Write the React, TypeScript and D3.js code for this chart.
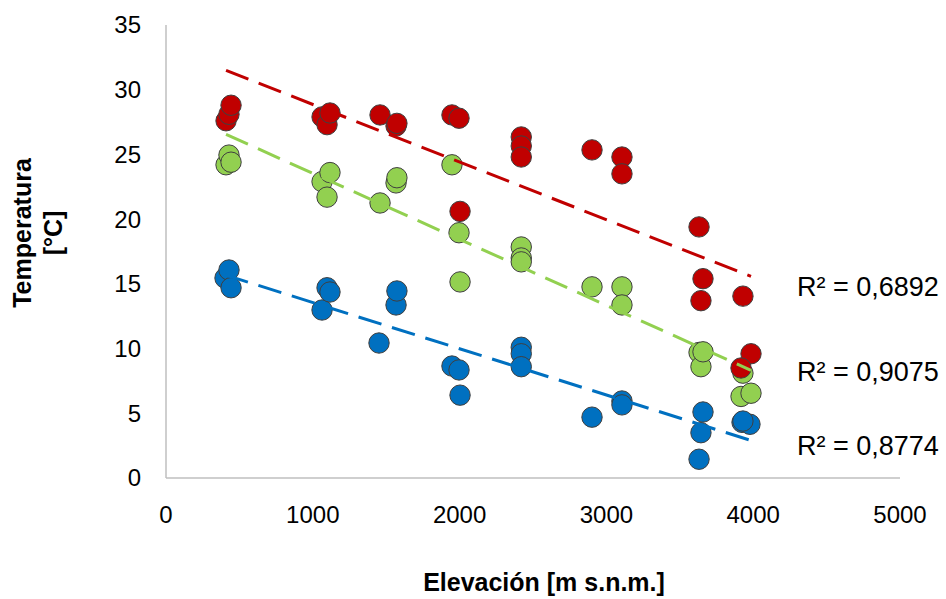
import React from "react";
import * as d3 from "d3";

const xTicks = [0, 1000, 2000, 3000, 4000, 5000];
const yTicks = [0, 5, 10, 15, 20, 25, 30, 35];

const elevRed = [409, 429, 443, 1063, 1097, 1117, 1458, 1567, 1573, 1948, 1996, 2003, 2420, 2420, 2420, 2902, 3106, 3106, 3631, 3658, 3644, 3930, 3985, 3917];
const tempRed = [27.6, 28.1, 28.8, 27.9, 27.3, 28.2, 28.05, 27.2, 27.4, 28.05, 27.8, 20.6, 26.35, 25.65, 24.8, 25.35, 24.8, 23.5, 19.4, 15.4, 13.7, 14.05, 9.6, 8.5];

const elevGreen = [409, 429, 443, 1063, 1097, 1117, 1458, 1567, 1573, 1948, 1996, 2003, 2420, 2420, 2420, 2902, 3106, 3106, 3631, 3644, 3658, 3917, 3930, 3985];
const tempGreen = [24.2, 24.95, 24.4, 22.9, 21.7, 23.6, 21.25, 22.8, 23.2, 24.2, 18.95, 15.15, 17.85, 17.0, 16.7, 14.77, 14.77, 13.37, 9.7, 8.6, 9.75, 6.3, 8.1, 6.55];

const elevBlue = [402, 429, 443, 1063, 1097, 1117, 1451, 1567, 1573, 1948, 1996, 2003, 2420, 2420, 2420, 2902, 3106, 3106, 3658, 3644, 3631, 3924, 3978, 3930];
const tempBlue = [15.45, 16.07, 14.7, 12.98, 14.7, 14.37, 10.43, 13.37, 14.45, 8.65, 8.35, 6.4, 10.1, 9.6, 8.6, 4.7, 5.95, 5.65, 5.1, 3.5, 1.45, 4.3, 4.15, 4.4];

const seriesNames = ["Mínima", "Media", "Máxima"];
const seriesColors = ["#0070C0", "#92D050", "#C00000"];
const r2Labels = ["R² = 0,8774", "R² = 0,9075", "R² = 0,6892"];

const W = 946;
const H = 599;
const FONT = "'Liberation Sans', Arial, sans-serif";

function regression(xs: number[], ys: number[]) {
  const mx = d3.mean(xs) as number;
  const my = d3.mean(ys) as number;
  let sxy = 0;
  let sxx = 0;
  xs.forEach((x, i) => {
    sxy += (x - mx) * (ys[i] - my);
    sxx += (x - mx) * (x - mx);
  });
  const b = sxy / sxx;
  const a = my - b * mx;
  return { a, b };
}

export default function App() {
  const x = d3.scaleLinear().domain([0, 5000]).range([166, 900]);
  const y = d3.scaleLinear().domain([0, 35]).range([478, 25]);

  const series = [
    { xs: elevBlue, ys: tempBlue },
    { xs: elevGreen, ys: tempGreen },
    { xs: elevRed, ys: tempRed },
  ];

  const labelY = [455, 381, 296];

  const line = d3
    .line<[number, number]>()
    .x((d) => x(d[0]))
    .y((d) => y(d[1]));

  return (
    <svg
      width={W}
      height={H}
      style={{ position: "absolute", left: 0, top: 0, background: "#fff" }}
      fontFamily={FONT}
    >
      <rect x={0} y={0} width={W} height={H} fill="#fff" />
      {/* axes */}
      <line x1={x(0)} x2={x(5000)} y1={y(0)} y2={y(0)} stroke="#BFBFBF" strokeWidth={1.5} />
      <line x1={x(0)} x2={x(0)} y1={y(0)} y2={y(35)} stroke="#BFBFBF" strokeWidth={1.5} />
      {xTicks.map((t) => (
        <text key={"xt" + t} x={x(t)} y={523} textAnchor="middle" fontSize={24} fill="#000">
          {t}
        </text>
      ))}
      {yTicks.map((t) => (
        <text key={"yt" + t} x={141} y={y(t)} dy="0.35em" textAnchor="end" fontSize={24} fill="#000">
          {t}
        </text>
      ))}
      {/* points */}
      {series.map((s, si) => (
        <g key={"s" + si}>
          {s.xs.map((ex, i) => (
            <circle
              key={i}
              cx={x(ex)}
              cy={y(s.ys[i])}
              r={10.2}
              fill={seriesColors[si]}
              stroke="#3F3F3F"
              strokeWidth={1}
            />
          ))}
        </g>
      ))}
      {/* trendlines */}
      {series.map((s, si) => {
        const { a, b } = regression(s.xs, s.ys);
        const x0 = d3.min(s.xs) as number;
        const x1 = d3.max(s.xs) as number;
        return (
          <path
            key={"tl" + si}
            d={line([
              [x0, a + b * x0],
              [x1, a + b * x1],
            ]) as string}
            stroke={seriesColors[si]}
            strokeWidth={3}
            strokeDasharray="24,11"
            fill="none"
          />
        );
      })}
      {/* R2 labels */}
      {r2Labels.map((l, i) => (
        <text key={"r2" + i} x={797} y={labelY[i]} fontSize={27} fill="#000">
          {l}
        </text>
      ))}
      {/* axis titles */}
      <text x={544} y={591} textAnchor="middle" fontSize={25} fontWeight="bold" fill="#000">
        Elevación [m s.n.m.]
      </text>
      <g transform="translate(31,233) rotate(-90)">
        <text x={0} y={0} textAnchor="middle" fontSize={25} fontWeight="bold" fill="#000">
          Temperatura
        </text>
        <text x={0} y={31} textAnchor="middle" fontSize={25} fontWeight="bold" fill="#000">
          [°C]
        </text>
      </g>
    </svg>
  );
}
